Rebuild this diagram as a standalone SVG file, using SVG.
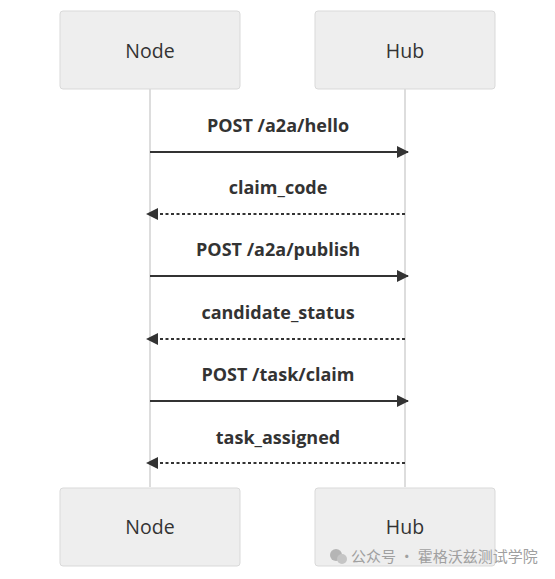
<svg xmlns="http://www.w3.org/2000/svg" width="555" height="579" viewBox="0 0 555 579">
<defs>
<style>
.actor{fill:#eeeeee;stroke:#d9d9d9;stroke-width:1}
.atext{font-family:"Open Sans","Liberation Sans",sans-serif;font-size:19.5px;fill:#333333;text-anchor:middle;dominant-baseline:central}
.life{stroke:#dddddd;stroke-width:2}
.msg{stroke:#333333;stroke-width:2;fill:none}
.dash{stroke-dasharray:3,2.5}
.mtext{font-family:"Open Sans","Liberation Sans",sans-serif;font-size:18px;font-weight:bold;fill:#333333;text-anchor:middle;dominant-baseline:central}
.wm{font-family:"Noto Sans CJK SC",sans-serif;font-size:15px;fill:#a0a0a0}
</style>
<marker id="ah" viewBox="0 0 12 12" refX="11" refY="6" markerWidth="12" markerHeight="12" markerUnits="userSpaceOnUse" orient="auto">
<path d="M0,0 L12,6 L0,12 z" fill="#333333"/>
</marker>
</defs>
<rect width="555" height="579" fill="#ffffff"/>
<g id="lifelines">
<line class="life" x1="150" y1="89" x2="150" y2="487"/>
<line class="life" x1="405" y1="89" x2="405" y2="487"/>
</g>
<g id="node-top"><rect class="actor" x="60" y="11" width="180" height="78" rx="3"/><text class="atext" x="150" y="50">Node</text></g>
<g id="hub-top"><rect class="actor" x="315" y="11" width="180" height="78" rx="3"/><text class="atext" x="405" y="50">Hub</text></g>
<g id="node-bottom"><rect class="actor" x="60" y="488" width="180" height="78" rx="3"/><text class="atext" x="150" y="526">Node</text></g>
<g id="hub-bottom"><rect class="actor" x="315" y="488" width="180" height="78" rx="3"/><text class="atext" x="405" y="526">Hub</text></g>
<g id="connectors">
<line class="msg" x1="150" y1="152" x2="408" y2="152" marker-end="url(#ah)"/>
<line class="msg dash" x1="405" y1="214" x2="147" y2="214" marker-end="url(#ah)"/>
<line class="msg" x1="150" y1="276" x2="408" y2="276" marker-end="url(#ah)"/>
<line class="msg dash" x1="405" y1="339" x2="147" y2="339" marker-end="url(#ah)"/>
<line class="msg" x1="150" y1="401" x2="408" y2="401" marker-end="url(#ah)"/>
<line class="msg dash" x1="405" y1="463" x2="147" y2="463" marker-end="url(#ah)"/>
</g>
<g id="labels">
<text class="mtext" x="278" y="125">POST /a2a/hello</text>
<text class="mtext" x="278" y="187">claim_code</text>
<text class="mtext" x="278" y="249">POST /a2a/publish</text>
<text class="mtext" x="278" y="312">candidate_status</text>
<text class="mtext" x="278" y="374">POST /task/claim</text>
<text class="mtext" x="278" y="437">task_assigned</text>
</g>
<g id="watermark">
<circle cx="336" cy="555" r="6" fill="#b5b5b5"/>
<circle cx="342" cy="559" r="5" fill="#c5c5c5"/>
<text class="wm" x="351" y="562">公众号 · 霍格沃兹测试学院</text>
</g>
</svg>
